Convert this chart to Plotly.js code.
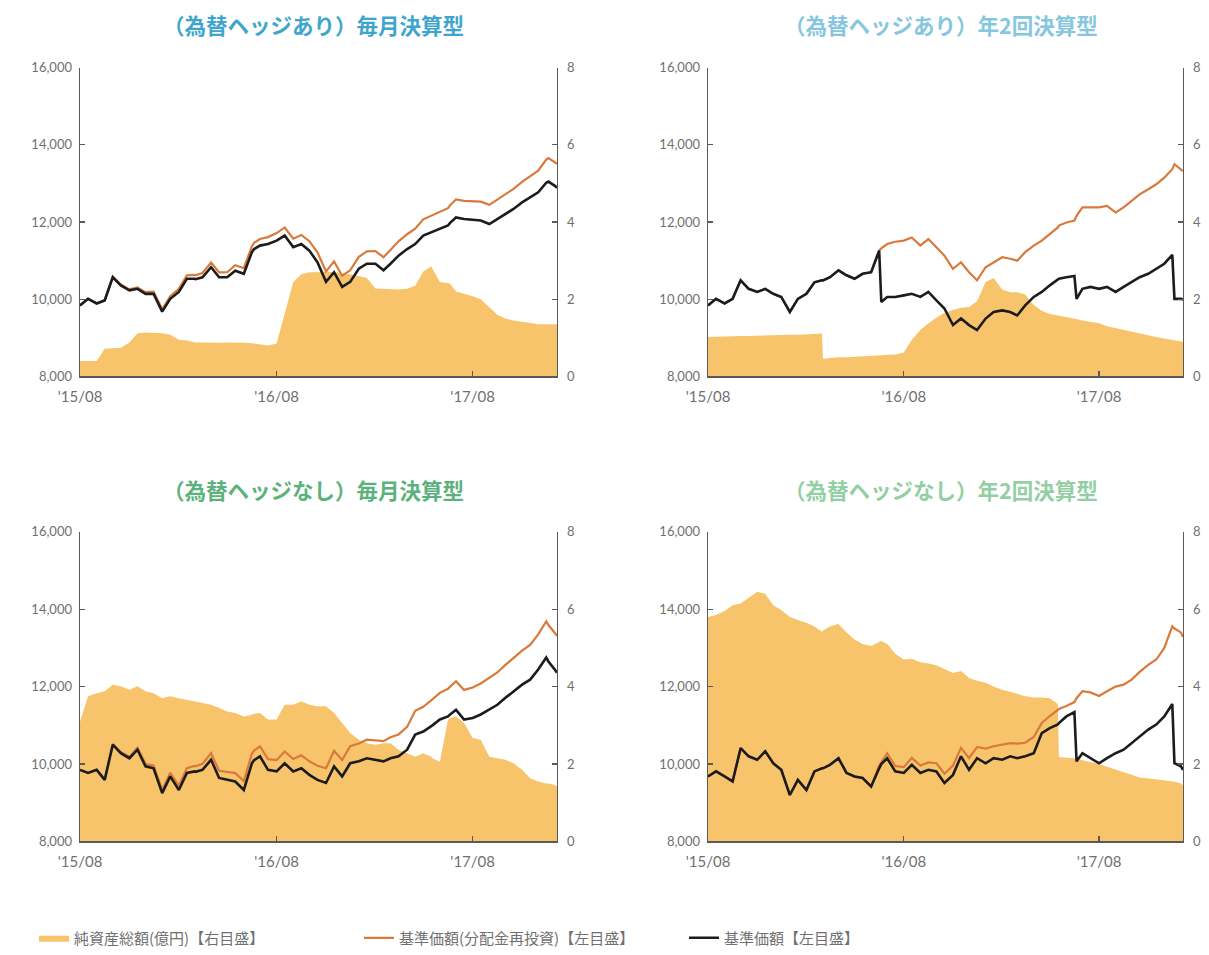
<!DOCTYPE html>
<html>
<head>
<meta charset="utf-8">
<script src="https://cdn.plot.ly/plotly-3.0.1.min.js"></script>
<style>
  html, body { margin: 0; padding: 0; background: #ffffff; }
  #chart { width: 1209px; height: 955px; }
</style>
</head>
<body>
<div id="chart"></div>
<script>
// Observation dates (1st and 16th of each month, plus settlement / flow days)
const dates = [
  '2015-08-01','2015-08-16','2015-09-01','2015-09-16','2015-10-01','2015-10-16','2015-11-01','2015-11-16','2015-12-01','2015-12-16',
  '2016-01-01','2016-01-16','2016-02-01','2016-02-16','2016-03-01','2016-03-03','2016-03-16','2016-04-01','2016-04-16','2016-05-01',
  '2016-05-16','2016-06-01','2016-06-16','2016-06-20','2016-07-01','2016-07-16','2016-08-01','2016-08-16','2016-09-01','2016-09-16',
  '2016-10-01','2016-10-16','2016-11-01','2016-11-16','2016-12-01','2016-12-16','2017-01-01','2017-01-16','2017-02-01','2017-02-16',
  '2017-03-01','2017-03-16','2017-04-01','2017-04-16','2017-05-01','2017-05-16','2017-05-18','2017-06-01','2017-06-16','2017-06-20',
  '2017-07-01','2017-07-16','2017-08-01','2017-08-16','2017-09-01','2017-09-16','2017-10-01','2017-10-16','2017-11-01','2017-11-16',
  '2017-12-01','2017-12-16','2017-12-20','2018-01-01','2018-01-05'
];

// (為替ヘッジあり)毎月決算型
const hedgedMonthlyAum = [
  0.40,0.40,0.40,0.72,0.73,0.74,0.88,1.12,1.14,1.13,
  1.12,1.08,0.95,0.93,0.88,0.88,0.88,0.87,0.87,0.88,
  0.88,0.87,0.86,0.85,0.84,0.80,0.85,1.60,2.45,2.65,
  2.70,2.70,2.72,2.70,2.68,2.65,2.60,2.55,2.28,2.27,
  2.26,2.25,2.27,2.35,2.72,2.85,2.80,2.45,2.42,2.40,
  2.20,2.15,2.08,2.00,1.80,1.60,1.50,1.45,1.42,1.38,
  1.35,1.35,1.35,1.35,1.35
];
const hedgedMonthlyReinvested = [
  9840,10010,9895,9980,10585,10380,10255,10305,10185,10195,
  9740,10080,10270,10620,10630,10620,10680,10950,10695,10700,
  10880,10805,11375,11460,11560,11610,11715,11860,11570,11665,
  11505,11215,10720,10980,10610,10750,11100,11240,11250,11090,
  11275,11500,11685,11830,12070,12160,12170,12260,12360,12435,
  12585,12550,12540,12530,12445,12580,12720,12860,13040,13185,
  13330,13620,13660,13550,13510
];
const hedgedMonthlyNav = [
  9840,10010,9890,9970,10570,10360,10230,10270,10140,10140,
  9680,10010,10190,10530,10530,10520,10570,10830,10570,10570,
  10740,10660,11220,11300,11390,11430,11520,11650,11350,11430,
  11260,10960,10450,10700,10320,10450,10790,10920,10920,10750,
  10920,11130,11300,11430,11650,11730,11740,11820,11910,11980,
  12120,12080,12060,12040,11950,12080,12210,12340,12510,12640,
  12770,13020,13050,12940,12890
];

// (為替ヘッジあり)年2回決算型
const hedgedSemiAum = [
  1.02,1.03,1.04,1.04,1.05,1.05,1.06,1.06,1.07,1.07,
  1.08,1.08,1.09,1.10,1.11,0.46,0.48,0.50,0.50,0.51,
  0.52,0.52,0.54,0.55,0.56,0.57,0.62,0.95,1.20,1.38,
  1.52,1.65,1.72,1.78,1.80,1.95,2.45,2.55,2.25,2.18,
  2.18,2.12,1.85,1.70,1.62,1.58,1.57,1.55,1.50,1.49,
  1.45,1.42,1.38,1.30,1.25,1.20,1.15,1.10,1.05,1.02,
  0.98,0.95,0.94,0.92,0.90
];
const hedgedSemiReinvested = [
  9840,10010,9890,10010,10490,10270,10190,10270,10140,10060,
  9670,10010,10140,10440,10490,10490,10570,10750,10620,10530,
  10660,10700,11260,11320,11430,11490,11520,11600,11390,11560,
  11350,11130,10790,10960,10700,10490,10830,10960,11090,11050,
  11000,11220,11390,11520,11690,11860,11910,11990,12040,12160,
  12380,12380,12380,12420,12250,12380,12550,12720,12850,12980,
  13150,13370,13500,13370,13320
];
const hedgedSemiNav = [
  9840,10010,9890,10010,10490,10270,10190,10270,10140,10060,
  9670,10010,10140,10440,10490,10490,10570,10750,10620,10530,
  10660,10700,11260,9930,10060,10060,10100,10140,10060,10190,
  9970,9760,9330,9500,9330,9200,9500,9670,9710,9670,
  9580,9840,10060,10190,10360,10490,10530,10570,10600,10010,
  10270,10320,10270,10320,10190,10320,10440,10570,10660,10790,
  10920,11150,10010,10010,9990
];

// (為替ヘッジなし)毎月決算型
const openMonthlyAum = [
  3.10,3.75,3.83,3.88,4.05,4.01,3.92,4.01,3.88,3.83,
  3.70,3.75,3.70,3.66,3.62,3.62,3.58,3.53,3.45,3.36,
  3.32,3.23,3.27,3.30,3.32,3.15,3.15,3.53,3.53,3.62,
  3.53,3.49,3.49,3.32,3.06,2.80,2.63,2.54,2.50,2.54,
  2.54,2.37,2.28,2.19,2.28,2.19,2.15,2.06,3.14,3.19,
  3.23,3.06,2.67,2.63,2.19,2.15,2.11,2.02,1.85,1.63,
  1.55,1.50,1.50,1.46,1.42
];
const openMonthlyReinvested = [
  9850,9770,9855,9600,10520,10310,10190,10420,10000,9960,
  9330,9775,9440,9895,9950,9940,10005,10280,9825,9790,
  9765,9560,10265,10350,10460,10125,10100,10325,10130,10225,
  10070,9955,9890,10340,10100,10460,10530,10630,10610,10590,
  10690,10765,10960,11375,11480,11635,11670,11840,11945,12000,
  12140,11915,11975,12080,12220,12365,12560,12745,12930,13075,
  13350,13685,13590,13385,13310
];
const openMonthlyNav = [
  9850,9770,9850,9590,10500,10280,10150,10370,9940,9890,
  9250,9680,9330,9770,9810,9800,9850,10110,9640,9590,
  9550,9330,10020,10100,10200,9850,9810,10020,9810,9890,
  9720,9590,9510,9940,9680,10020,10070,10150,10110,10070,
  10150,10200,10370,10760,10840,10970,11000,11150,11230,11280,
  11400,11150,11190,11280,11400,11530,11710,11880,12050,12180,
  12440,12750,12650,12440,12360
];

// (為替ヘッジなし)年2回決算型
const openSemiAum = [
  5.80,5.85,5.95,6.10,6.15,6.30,6.45,6.40,6.10,5.98,
  5.80,5.72,5.65,5.55,5.42,5.45,5.55,5.62,5.40,5.22,
  5.10,5.05,5.15,5.18,5.10,4.85,4.70,4.72,4.63,4.60,
  4.55,4.45,4.35,4.40,4.22,4.15,4.10,4.00,3.92,3.87,
  3.82,3.75,3.72,3.72,3.70,3.55,2.18,2.17,2.15,2.14,
  2.10,2.06,2.00,1.93,1.85,1.78,1.72,1.65,1.63,1.60,
  1.58,1.55,1.55,1.50,1.45
];
const openSemiReinvested = [
  9680,9810,9680,9550,10410,10200,10110,10330,10020,9850,
  9200,9590,9330,9810,9890,9890,9980,10150,9770,9680,
  9640,9420,9960,10050,10280,9950,9920,10160,9960,10040,
  10020,9750,9960,10420,10150,10440,10400,10460,10500,10540,
  10530,10550,10700,11060,11240,11400,11420,11500,11600,11700,
  11880,11850,11760,11880,12000,12050,12180,12380,12560,12700,
  13000,13560,13500,13400,13280
];
const openSemiNav = [
  9680,9810,9680,9550,10410,10200,10110,10330,10020,9850,
  9200,9590,9330,9810,9890,9890,9980,10150,9770,9680,
  9640,9420,9890,10000,10150,9810,9770,9980,9770,9850,
  9810,9510,9720,10200,9850,10150,10020,10150,10110,10200,
  10150,10200,10280,10800,10930,11020,11060,11230,11340,10070,
  10280,10150,10020,10150,10280,10370,10540,10720,10890,11020,
  11230,11550,10020,9940,9850
];

const panelTitles = [
  '（為替ヘッジあり）毎月決算型',
  '（為替ヘッジあり）年2回決算型',
  '（為替ヘッジなし）毎月決算型',
  '（為替ヘッジなし）年2回決算型'
];
const titleColors = ['#3ea6cc', '#86c6df', '#5cb27d', '#93cfa3'];
const seriesNames = [
  '純資産総額(億円)【右目盛】',
  '基準価額(分配金再投資)【左目盛】',
  '基準価額【左目盛】'
];
const tickVals = ['2015-08-01', '2016-08-01', '2017-08-01'];
const tickText = ["'15/08", "'16/08", "'17/08"];
const navTicks = [8000, 10000, 12000, 14000, 16000];
const aumTicks = [0, 2, 4, 6, 8];

const panels = [
  { aum: hedgedMonthlyAum, reinv: hedgedMonthlyReinvested, nav: hedgedMonthlyNav },
  { aum: hedgedSemiAum,    reinv: hedgedSemiReinvested,    nav: hedgedSemiNav },
  { aum: openMonthlyAum,   reinv: openMonthlyReinvested,   nav: openMonthlyNav },
  { aum: openSemiAum,      reinv: openSemiReinvested,      nav: openSemiNav }
];

// Page geometry in pixels
const W = 1209, H = 955;
const boxes = [
  { l: 80,  r: 557,  t: 68,  b: 378 },
  { l: 708, r: 1183, t: 68,  b: 378 },
  { l: 80,  r: 557,  t: 534, b: 845 },
  { l: 708, r: 1183, t: 534, b: 845 }
];
const titleX = [313, 941, 313, 941];
const titleY = [25, 25, 492, 492];
const fx = v => v / W;
const fy = v => 1 - v / H;

const axisColor = '#5a5a5a';
const yTickFont = { family: 'Lato, "Noto Sans", sans-serif', size: 13, color: '#707070' };
const xTickFont = { family: 'Lato, "Noto Sans", sans-serif', size: 15, color: '#707070' };
const cjk = '"Noto Sans CJK JP", "Noto Sans", sans-serif';

const traces = [];
const layout = {
  width: W, height: H,
  margin: { l: 0, r: 0, t: 0, b: 0 },
  paper_bgcolor: '#ffffff',
  plot_bgcolor: 'rgba(0,0,0,0)',
  showlegend: true,
  legend: {
    orientation: 'h',
    x: fx(34), y: fy(942), xanchor: 'left', yanchor: 'middle',
    font: { family: cjk, size: 15, color: '#707070' },
    entrywidth: 280, entrywidthmode: 'pixels',
    traceorder: 'normal',
    bgcolor: 'rgba(0,0,0,0)'
  },
  annotations: [],
  hovermode: false
};

panels.forEach((p, i) => {
  const n = i + 1;
  const xName = n === 1 ? 'xaxis' : 'xaxis' + n;
  const xRef = n === 1 ? 'x' : 'x' + n;
  const aumIdx = 2 * n - 1, navIdx = 2 * n;
  const aumName = aumIdx === 1 ? 'yaxis' : 'yaxis' + aumIdx;
  const aumRef = aumIdx === 1 ? 'y' : 'y' + aumIdx;
  const navName = 'yaxis' + navIdx;
  const navRef = 'y' + navIdx;
  const b = boxes[i];

  layout[xName] = {
    domain: [fx(b.l), fx(b.r)],
    anchor: aumRef,
    type: 'date',
    range: ['2015-08-01', '2018-01-05'],
    tickmode: 'array', tickvals: tickVals, ticktext: tickText,
    ticks: 'inside', ticklen: 5, tickwidth: 1.2, tickcolor: axisColor,
    showline: true, linecolor: axisColor, linewidth: 1.4,
    showgrid: false, zeroline: false,
    tickfont: xTickFont, ticklabelstandoff: 6
  };
  layout[aumName] = {
    domain: [fy(b.b), fy(b.t)],
    anchor: xRef,
    side: 'right',
    range: [0, 8],
    tickmode: 'array', tickvals: aumTicks,
    ticks: 'inside', ticklen: 5, tickwidth: 1.2, tickcolor: axisColor,
    showline: true, linecolor: axisColor, linewidth: 1.4,
    showgrid: false, zeroline: false,
    tickfont: yTickFont, ticklabelstandoff: 6
  };
  layout[navName] = {
    overlaying: aumRef,
    anchor: xRef,
    side: 'left',
    range: [8000, 16000],
    tickmode: 'array', tickvals: navTicks, tickformat: ',d',
    ticks: 'inside', ticklen: 5, tickwidth: 1.2, tickcolor: axisColor,
    showline: true, linecolor: axisColor, linewidth: 1.4,
    showgrid: false, zeroline: false,
    tickfont: yTickFont, ticklabelstandoff: 4
  };

  traces.push({
    type: 'scatter', mode: 'lines',
    x: dates, y: p.aum,
    xaxis: xRef, yaxis: aumRef,
    fill: 'tozeroy', fillcolor: '#f8c46b',
    line: { width: 0, color: '#f8c46b' },
    name: seriesNames[0], legendgroup: 'aum', showlegend: n === 1
  });
  traces.push({
    type: 'scatter', mode: 'lines',
    x: dates, y: p.reinv,
    xaxis: xRef, yaxis: navRef,
    line: { width: 2.2, color: '#d97a3c' },
    name: seriesNames[1], legendgroup: 'reinv', showlegend: n === 1
  });
  traces.push({
    type: 'scatter', mode: 'lines',
    x: dates, y: p.nav,
    xaxis: xRef, yaxis: navRef,
    line: { width: 2.6, color: '#1c1c1c' },
    name: seriesNames[2], legendgroup: 'nav', showlegend: n === 1
  });

  layout.annotations.push({
    xref: 'paper', yref: 'paper',
    x: fx(titleX[i]), y: fy(titleY[i]),
    xanchor: 'center', yanchor: 'middle',
    text: panelTitles[i], showarrow: false,
    font: { family: cjk, size: 21.5, color: titleColors[i], weight: 700 }
  });
});

Plotly.newPlot('chart', traces, layout, { displayModeBar: false, staticPlot: true });
</script>
</body>
</html>
